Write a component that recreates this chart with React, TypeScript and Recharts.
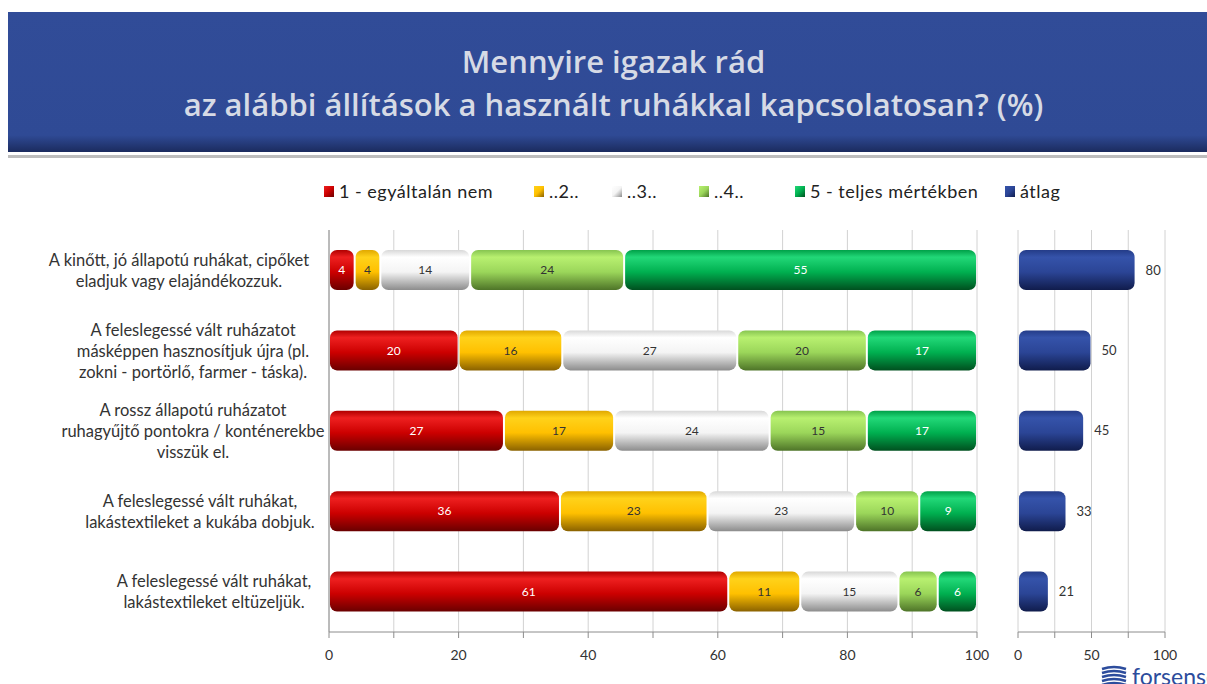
import React from "react";
import { BarChart, Bar, XAxis, YAxis, CartesianGrid, LabelList } from "recharts";

const categories = [
  "A kinőtt, jó állapotú ruhákat, cipőket\neladjuk vagy elajándékozzuk.",
  "A feleslegessé vált ruházatot\nmásképpen hasznosítjuk újra (pl.\nzokni - portörlő, farmer - táska).",
  "A rossz állapotú ruházatot\nruhagyűjtő pontokra / konténerekbe\nvisszük el.",
  "A feleslegessé vált ruhákat,\nlakástextileket a kukába dobjuk.",
  "A feleslegessé vált ruhákat,\nlakástextileket eltüzeljük.",
];

const seriesNames = ["1 - egyáltalán nem", "..2..", "..3..", "..4..", "5 - teljes mértékben"];
const s1 = [4, 20, 27, 36, 61];
const s2 = [4, 16, 17, 23, 11];
const s3 = [14, 27, 24, 23, 15];
const s4 = [24, 20, 15, 10, 6];
const s5 = [55, 17, 17, 9, 6];
const atlag = [80, 50, 45, 33, 21];

const mainTicks = [0, 0.1, 0.2, 0.3, 0.4, 0.5, 0.6, 0.7, 0.8, 0.9, 1];
const avgTicks = [0, 25, 50, 75, 100];

const rows = categories.map((name, i) => ({
  name,
  s1: s1[i],
  s2: s2[i],
  s3: s3[i],
  s4: s4[i],
  s5: s5[i],
  atlag: atlag[i],
}));

// gradient stops: top edge, highlight, body, bottom shadow
const grads: Record<string, string[]> = {
  red: ["#b00000", "#ee2020", "#cc0000", "#6a0000"],
  yellow: ["#e0a800", "#ffd21a", "#ffc000", "#8a6200"],
  white: ["#d8d8d8", "#ffffff", "#f4f4f4", "#8c8c8c"],
  lgreen: ["#86c450", "#b8f070", "#9bd65a", "#4e7428"],
  green: ["#00a048", "#22d878", "#00b050", "#00501f"],
  blue: ["#243c88", "#3553aa", "#2b4596", "#101c4c"],
};
const keys = ["s1", "s2", "s3", "s4", "s5"];
const gradIds = ["red", "yellow", "white", "lgreen", "green"];
const labelColors = ["#ffffff", "#333333", "#333333", "#333333", "#ffffff"];

const Defs = () => (
  <defs>
    {Object.entries(grads).map(([id, c]) => (
      <linearGradient key={id} id={"g-" + id} x1="0" y1="0" x2="0" y2="1">
        <stop offset="0%" stopColor={c[0]} />
        <stop offset="18%" stopColor={c[1]} />
        <stop offset="55%" stopColor={c[2]} />
        <stop offset="100%" stopColor={c[3]} />
      </linearGradient>
    ))}
  </defs>
);

const pill = (id: string) => (props: any) => {
  const { x, y, width, height } = props;
  if (!width || width <= 0) return <g />;
  const w = Math.max(width - 2, 0);
  return (
    <rect x={x + 1} y={y} width={w} height={height} rx={Math.min(7, w / 2)} fill={`url(#g-${id})`} />
  );
};

const CategoryTick = (props: any) => {
  const { y, payload } = props;
  const lines: string[] = String(payload.value).split("\n");
  const maxLen = Math.max(...lines.map((l) => l.length));
  const cx = 312 - maxLen * 3.5;
  const lh = 21;
  const top = y - ((lines.length - 1) * lh) / 2;
  return (
    <text x={cx} y={top} textAnchor="middle" fontSize={16.5} fill="#333" fontFamily="Lato">
      {lines.map((l, i) => (
        <tspan key={i} x={cx} y={top + i * lh} dominantBaseline="central">
          {l}
        </tspan>
      ))}
    </text>
  );
};

const mainFmt = (v: number) => {
  const p = Math.round(v * 100);
  return p % 20 === 0 ? String(p) : "";
};
const avgFmt = (v: number) => (v % 50 === 0 ? String(v) : "");

const legendItems = [
  { label: seriesNames[0], g: "red", left: 324 },
  { label: seriesNames[1], g: "yellow", left: 534 },
  { label: seriesNames[2], g: "white", left: 612 },
  { label: seriesNames[3], g: "lgreen", left: 699 },
  { label: seriesNames[4], g: "green", left: 795 },
  { label: "átlag", g: "blue", left: 1005 },
];

export default function App() {
  return (
    <div style={{ position: "absolute", left: 0, top: 0, width: 1207, height: 684, background: "#fff", overflow: "hidden", fontFamily: "Lato" }}>
      <div
        style={{
          position: "absolute",
          left: 8,
          top: 12,
          width: 1199,
          height: 140,
          background: "linear-gradient(#314c98 0%, #2f4a95 88%, #1b2b5e 100%)",
          color: "#d6dae5",
          textAlign: "center",
          fontFamily: "'Open Sans'",
          fontWeight: 600,
          fontSize: 31,
          lineHeight: "43px",
          paddingTop: 28,
          boxSizing: "border-box",
        }}
      >
        <div style={{ paddingLeft: 12 }}>Mennyire igazak rád</div>
        <div style={{ paddingLeft: 12 }}>az alábbi állítások a használt ruhákkal kapcsolatosan? (%)</div>
      </div>
      <div style={{ position: "absolute", left: 8, top: 155, width: 1199, height: 3, background: "#bdbdbd" }} />

      {legendItems.map((it) => {
        const c = grads[it.g];
        return (
          <div key={it.label} style={{ position: "absolute", left: it.left, top: 180, display: "flex", alignItems: "center", fontSize: 18, letterSpacing: 0.5, color: "#222" }}>
            <span
              style={{
                display: "inline-block",
                width: 10,
                height: 11,
                marginRight: 5,
                background: `linear-gradient(135deg, ${c[1]} 0%, ${c[2]} 50%, ${c[3]} 100%)`,
              }}
            />
            {it.label}
          </div>
        );
      })}

      <div style={{ position: "absolute", left: 0, top: 220 }}>
        <BarChart
          width={1000}
          height={452}
          data={rows}
          layout="vertical"
          stackOffset="expand"
          barSize={40}
          margin={{ top: 10, right: 23, bottom: 0, left: 9 }}
        >
          <Defs />
          <CartesianGrid horizontal={false} stroke="#d2d2d2" />
          <XAxis
            type="number"
            domain={[0, 1]}
            ticks={mainTicks}
            tickFormatter={mainFmt}
            height={40}
            tickMargin={12}
            tick={{ fontSize: 14, fill: "#333", fontFamily: "Lato" }}
            axisLine={{ stroke: "#8c8c8c" }}
            tickLine={{ stroke: "#8c8c8c" }}
          />
          <YAxis
            type="category"
            dataKey="name"
            width={320}
            interval={0}
            tick={<CategoryTick />}
            tickLine={false}
            axisLine={{ stroke: "#8c8c8c" }}
          />
          {keys.map((k, i) => (
            <Bar key={k} dataKey={k} stackId="a" isAnimationActive={false} shape={pill(gradIds[i])}>
              <LabelList dataKey={k} position="center" fill={labelColors[i]} fontSize={12} fontFamily="Lato" />
            </Bar>
          ))}
        </BarChart>
      </div>

      <div style={{ position: "absolute", left: 1000, top: 220 }}>
        <BarChart
          width={207}
          height={452}
          data={rows}
          layout="vertical"
          barSize={40}
          margin={{ top: 10, right: 42, bottom: 0, left: 18 }}
        >
          <Defs />
          <CartesianGrid horizontal={false} stroke="#d2d2d2" />
          <XAxis
            type="number"
            domain={[0, 100]}
            ticks={avgTicks}
            tickFormatter={avgFmt}
            height={40}
            tickMargin={12}
            tick={{ fontSize: 14, fill: "#333", fontFamily: "Lato" }}
            axisLine={{ stroke: "#8c8c8c" }}
            tickLine={{ stroke: "#8c8c8c" }}
          />
          <YAxis type="category" dataKey="name" hide />
          <Bar dataKey="atlag" isAnimationActive={false} shape={pill("blue")}>
            <LabelList dataKey="atlag" position="right" offset={10} fill="#333" fontSize={13} fontFamily="Lato" />
          </Bar>
        </BarChart>
      </div>

      <div style={{ position: "absolute", left: 1100, top: 665, display: "flex", alignItems: "center" }}>
        <svg width={28} height={22}>
          {[0, 1, 2, 3, 4].map((i) => (
            <path key={i} d={`M2 ${4 + i * 4} Q14 ${0 + i * 4} 26 ${4 + i * 4}`} stroke="#2c4c9c" strokeWidth={2.4} fill="none" />
          ))}
        </svg>
        <span style={{ fontSize: 23, lineHeight: "22px", color: "#2c4c9c", marginLeft: 4, fontFamily: "Lato" }}>forsense</span>
      </div>
    </div>
  );
}
